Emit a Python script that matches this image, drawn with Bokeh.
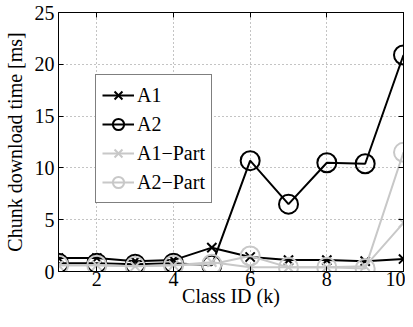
from bokeh.plotting import figure
from bokeh.models import Range1d, LinearAxis, Legend, LegendItem, FixedTicker
from bokeh.embed import file_html
from bokeh.resources import INLINE

class_ids = [1, 2, 3, 4, 5, 6, 7, 8, 9, 10]
a1 = [1.3, 1.3, 1.0, 1.1, 2.3, 1.4, 1.1, 1.1, 1.0, 1.2]
a2 = [0.8, 0.8, 0.7, 0.8, 0.6, 10.7, 6.5, 10.5, 10.4, 20.9]
a1_part = [0.6, 0.6, 0.5, 0.6, 0.9, 0.4, 0.4, 0.4, 0.5, 4.7]
a2_part = [0.6, 0.6, 0.5, 0.6, 0.7, 1.5, 0.4, 0.4, 0.3, 11.5]
x_ticks = [2, 4, 6, 8, 10]
y_ticks = [0, 5, 10, 15, 20, 25]

FONT = "Times"
BLACK = "#000000"
GREY = "#c8c8c8"

p = figure(width=405, height=311, output_backend="svg", toolbar_location=None,
           x_range=Range1d(1, 10), y_range=Range1d(0, 25),
           min_border_left=49, min_border_right=2, min_border_top=12, min_border_bottom=40)
p.background_fill_color = "white"
p.border_fill_color = "white"
p.outline_line_color = BLACK
p.outline_line_width = 1

def style_axis(ax):
    ax.major_label_text_font = FONT
    ax.major_label_text_font_size = "20px"
    ax.major_label_text_color = BLACK
    ax.axis_label_text_font = FONT
    ax.axis_label_text_font_size = "20px"
    ax.axis_label_text_font_style = "normal"
    ax.axis_label_text_color = BLACK
    ax.major_tick_in = 5
    ax.major_tick_out = 0
    ax.minor_tick_line_color = None
    ax.axis_line_color = BLACK
    ax.major_tick_line_color = BLACK

style_axis(p.xaxis[0])
style_axis(p.yaxis[0])
p.xaxis[0].ticker = FixedTicker(ticks=x_ticks)
p.yaxis[0].ticker = FixedTicker(ticks=y_ticks)
p.xaxis[0].axis_label = "Class ID (k)"
p.yaxis[0].axis_label = "Chunk download time [ms]"
p.xaxis[0].major_label_standoff = 0
p.xaxis[0].axis_label_standoff = -4
p.yaxis[0].major_label_standoff = 4
p.yaxis[0].axis_label_standoff = 6

# box ticks on top and right (labels not drawn)
top_ax = LinearAxis(ticker=FixedTicker(ticks=x_ticks), major_label_text_font_size="1px",
                    major_label_text_color=None,
                    major_label_standoff=0, major_tick_in=5, major_tick_out=0,
                    minor_tick_line_color=None, axis_line_color=BLACK)
right_ax = LinearAxis(ticker=FixedTicker(ticks=y_ticks), major_label_text_font_size="1px",
                      major_label_text_color=None,
                      major_label_standoff=0, major_tick_in=5, major_tick_out=0,
                      minor_tick_line_color=None, axis_line_color=BLACK)
p.add_layout(top_ax, "above")
p.add_layout(right_ax, "right")

p.xgrid.ticker = FixedTicker(ticks=x_ticks)
p.ygrid.ticker = FixedTicker(ticks=y_ticks)
for g in (p.xgrid[0], p.ygrid[0]):
    g.grid_line_color = "#888888"
    g.grid_line_dash = "1 3"
    g.grid_line_width = 1

series = [
    ("A1", a1, BLACK, "x"),
    ("A2", a2, BLACK, "circle"),
    ("A1\u2212Part", a1_part, GREY, "x"),
    ("A2\u2212Part", a2_part, GREY, "circle"),
]
items = []
for name, ys, col, mk in series:
    ln = p.line(class_ids, ys, line_color=col, line_width=2)
    if mk == "x":
        sc = p.scatter(class_ids, ys, marker="x", size=13, line_color=col, line_width=2)
    else:
        sc = p.scatter(class_ids, ys, marker="circle", size=19, line_color=col,
                       fill_color=None, line_width=2)
    items.append(LegendItem(label=name, renderers=[ln, sc]))

legend = Legend(items=items, location=(37, 68))
legend.label_text_font = FONT
legend.label_text_font_size = "20px"
legend.label_text_color = BLACK
legend.border_line_color = BLACK
legend.border_line_width = 1
legend.background_fill_alpha = 1
legend.glyph_width = 32
legend.glyph_height = 28
legend.label_height = 28
legend.spacing = 1
legend.padding = 6
legend.margin = 0
legend.label_standoff = 3
p.add_layout(legend)

open("out.html", "w").write(file_html(p, INLINE))
